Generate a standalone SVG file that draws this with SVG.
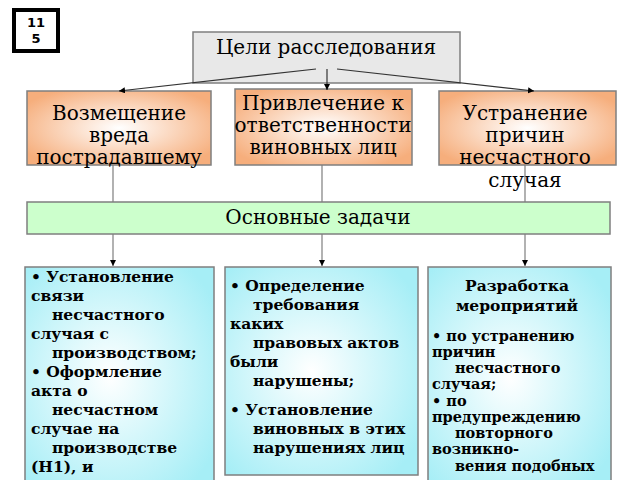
<svg xmlns="http://www.w3.org/2000/svg" width="640" height="480" viewBox="0 0 640 480">
<defs>
<radialGradient id="og" cx="0.5" cy="0.5" r="0.6"><stop offset="0" stop-color="#ffffff"/><stop offset="1" stop-color="#f6ae7c"/></radialGradient>
<radialGradient id="cg" cx="0.45" cy="0.5" r="0.65"><stop offset="0" stop-color="#ffffff"/><stop offset="1" stop-color="#a6eef6"/></radialGradient>
<marker id="ar" markerWidth="8" markerHeight="8" refX="6" refY="3" orient="auto" markerUnits="userSpaceOnUse"><path d="M0,0 L6,3 L0,6 z" fill="#000"/></marker>
</defs>
<style>
.t{font-family:"DejaVu Serif",serif;font-size:20px;fill:#000;text-anchor:middle}
.b{font-family:"DejaVu Serif",serif;font-size:15.5px;font-weight:bold;fill:#000}
.s{font-family:"DejaVu Serif",serif;font-size:14.5px;font-weight:bold;fill:#000}
.box{stroke:#7f7f7f;stroke-width:1.5}
.c{stroke:#333;stroke-width:1.2;fill:none}
.g{stroke:#7f7f7f;stroke-width:1.2;fill:none}
</style>
<rect width="640" height="480" fill="#fff"/>
<g id="badge"><rect x="14" y="10" width="44" height="41" fill="#fff" stroke="#000" stroke-width="4"/>
<text x="36" y="27" font-family="DejaVu Sans,sans-serif" font-size="13" font-weight="bold" text-anchor="middle">11</text>
<text x="36" y="43" font-family="DejaVu Sans,sans-serif" font-size="13" font-weight="bold" text-anchor="middle">5</text></g>
<g id="goals"><rect class="box" x="193" y="32" width="267" height="51" fill="#e8e8e8"/><text class="t" x="326" y="54" font-size="21">Цели расследования</text></g>
<g id="g1"><rect class="box" x="27" y="91" width="184" height="74" fill="url(#og)"/>
<text class="t" x="119" y="120">Возмещение</text><text class="t" x="119" y="142">вреда</text><text class="t" x="119" y="164">пострадавшему</text></g>
<g id="g2"><rect class="box" x="235" y="89" width="177" height="76" fill="url(#og)"/>
<text class="t" x="323" y="110">Привлечение к</text><text class="t" x="323" y="132">ответственности</text><text class="t" x="323" y="154">виновных лиц</text></g>
<g id="g3"><rect class="box" x="439" y="91" width="177" height="74" fill="url(#og)"/>
<text class="t" x="525" y="120">Устранение</text><text class="t" x="525" y="142">причин</text><text class="t" x="525" y="164">несчастного</text><text class="t" x="525" y="187">случая</text></g>
<g id="tasks"><rect class="box" x="27" y="202" width="583" height="32" fill="#ccffcc"/><text class="t" x="318" y="224">Основные задачи</text></g>
<g id="t1"><rect class="box" x="25" y="267" width="189" height="220" fill="url(#cg)"/>
<text class="b"><tspan x="31" y="282">•  Установление</tspan><tspan x="31" y="301">связи</tspan><tspan x="52" y="320">несчастного</tspan><tspan x="31" y="339">случая с</tspan><tspan x="52" y="358">производством;</tspan><tspan x="31" y="377">•  Оформление</tspan><tspan x="31" y="396">акта о</tspan><tspan x="52" y="415">несчастном</tspan><tspan x="31" y="434">случае на</tspan><tspan x="52" y="453">производстве</tspan><tspan x="31" y="472">(Н1), и</tspan></text></g>
<g id="t2"><rect class="box" x="225" y="267" width="193" height="208" fill="url(#cg)"/>
<text class="b"><tspan x="230" y="291">•  Определение</tspan><tspan x="253" y="310">требования</tspan><tspan x="230" y="329">каких</tspan><tspan x="253" y="348">правовых актов</tspan><tspan x="230" y="367">были</tspan><tspan x="253" y="386">нарушены;</tspan><tspan x="230" y="415">•  Установление</tspan><tspan x="253" y="434">виновных в этих</tspan><tspan x="253" y="453">нарушениях лиц</tspan></text></g>
<g id="t3"><rect class="box" x="428" y="267" width="183" height="220" fill="url(#cg)"/>
<text class="b" text-anchor="middle"><tspan x="517" y="291">Разработка</tspan><tspan x="517" y="311">мероприятий</tspan></text>
<text class="s"><tspan x="432" y="341">•  по устранению</tspan><tspan x="432" y="357">причин</tspan><tspan x="455" y="373">несчастного</tspan><tspan x="432" y="389">случая;</tspan><tspan x="432" y="406">•  по</tspan><tspan x="432" y="422">предупреждению</tspan><tspan x="455" y="438">повторного</tspan><tspan x="432" y="454">возникно-</tspan><tspan x="455" y="471">вения подобных</tspan></text></g>
<g id="connectors">
<path class="c" d="M316,69 L119,91" marker-end="url(#ar)"/>
<path class="c" d="M327,69 L327,90" marker-end="url(#ar)"/>
<path class="c" d="M337,69 L534,91" marker-end="url(#ar)"/>
<path class="g" d="M113,165V202M322,165V202M525,165V202"/>
<path class="g" d="M113,234V266" marker-end="url(#ar)"/>
<path class="g" d="M322,234V266" marker-end="url(#ar)"/>
<path class="g" d="M525,234V266" marker-end="url(#ar)"/>
</g>
</svg>
